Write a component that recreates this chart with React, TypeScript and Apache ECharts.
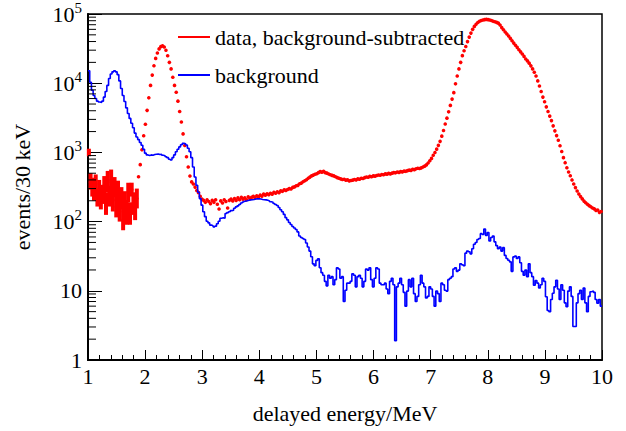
import React, { useEffect, useRef } from 'react';
import * as echarts from 'echarts';

const X_MIN = 1;
const X_MAX = 10;
const BIN_WIDTH = 0.03;

const xTickLabels = ['1', '2', '3', '4', '5', '6', '7', '8', '9', '10'];
const yTickLabels = ['{p|1}', '{p|10}', '{b|10}{s|2}', '{b|10}{s|3}', '{b|10}{s|4}', '{b|10}{s|5}'];
const yMinorTicks = [
  2, 3, 4, 5, 6, 7, 8, 9,
  20, 30, 40, 50, 60, 70, 80, 90,
  200, 300, 400, 500, 600, 700, 800, 900,
  2000, 3000, 4000, 5000, 6000, 7000, 8000, 9000,
  20000, 30000, 40000, 50000, 60000, 70000, 80000, 90000,
];

const redName = 'data, background-subtracted';
const blueName = 'background';

// 30 keV bins from 1 to 10 MeV
const redValues = [
  1000, 370, 315, 265, 350, 215, 290, 190, 250, 330, 180, 370, 230, 400, 205, 315, 165, 275, 140, 215, 105, 190, 140, 265, 130, 290, 180, 150, 215,
  445, 665, 1090, 1740, 2550, 4050, 6150, 9300, 13100, 17900, 22800, 27300, 31300, 33800, 34600, 33400, 29900, 24900, 20000, 16100, 12200, 9300, 7400, 5500, 3900, 2750, 1850, 1260, 865, 615, 455, 375, 350, 315, 282, 262, 232, 211, 203,
  190, 207, 195, 182, 203, 190, 207, 178, 152, 199, 186, 207, 195, 157, 203, 211, 199, 215, 203, 220, 207, 224, 211, 220, 207, 228, 215, 224, 232, 220, 236, 228, 241,
  232, 249, 241, 253, 245, 257, 249, 266, 257, 270, 262, 278, 274, 287, 283, 291, 300, 296, 312, 317, 330, 334, 352, 360, 377, 390, 403, 423, 440, 457, 470, 483, 492,
  510, 527, 518, 531, 510, 501, 488, 475, 466, 457, 445, 432, 423, 414, 406, 410, 397, 401, 388, 393, 397, 406, 401, 414, 410, 423, 419, 432, 441, 437, 450, 445, 458, 454, 463, 472, 467, 480, 476, 489, 485, 498, 489, 502, 511, 507, 520, 515, 528, 524, 537, 533, 546, 555, 550, 568, 563, 581, 590, 585, 598, 616, 633, 660, 704, 757,
  819, 908, 997, 1113, 1265, 1445, 1716, 2075, 2576, 3126, 3860, 4780, 5890, 7300,
  9800, 12700, 16100, 20000, 25000, 29400, 33900, 39900, 46400, 53000, 60000, 66200, 71200, 75300, 78400, 80400, 82000, 83000, 83500, 83000, 82000, 80400, 78400, 77400,
  75800, 73800, 69200, 63600, 59100, 55000, 51500, 48000, 44500, 41000, 38000, 35400, 33000, 30400, 28400, 26400, 24400, 22400, 21000, 19500, 17800, 16100, 14400, 12700, 10800, 9100, 7600, 6300, 5400, 4550, 3900, 3350, 2880, 2420, 2050, 1750, 1500, 1250, 1030, 840, 710, 600, 520, 460, 400, 350, 310, 277, 250, 230, 213, 198, 187, 178, 170, 164, 157, 153, 145, 147, 136, 140,
];

// error bars of the first bins (large subtraction uncertainty)
const redErrLow = [880, 290, 230, 200, 250, 165, 210, 150, 180, 240, 125, 265, 165, 280, 140, 225, 115, 190, 100, 150, 75, 130, 90, 190, 90, 230, 125, 105, 155];
const redErrHigh = [1130, 500, 430, 360, 480, 290, 400, 250, 340, 455, 265, 540, 330, 565, 305, 440, 240, 390, 205, 315, 155, 275, 205, 365, 190, 365, 265, 215, 300];

const blueValues = [
  15100, 10300, 7900, 6650, 6000, 5500, 5350, 5250, 5500, 6300, 7600, 9300, 11700, 13600, 14600, 15100, 14600, 13300, 10800, 8400, 6650, 5450, 4400, 3650, 3100, 2640, 2270, 1900, 1670, 1530, 1390, 1270, 1110, 975,
  920, 900, 920, 910, 930, 940, 950, 930, 940, 910, 895, 865, 840, 795, 775, 840, 920, 1020, 1110, 1200, 1290, 1350, 1330, 1280, 1150, 1020, 840, 615, 440, 335, 266, 215, 173, 139,
  118, 101, 96, 89, 87, 84, 86, 93, 101, 112, 114, 112, 131, 135, 139, 144, 146, 156, 163, 169, 177, 186, 192, 197, 200, 203, 206, 207, 209, 212, 214, 213, 212, 209, 207, 206, 203, 199, 194, 190, 183, 177, 171, 160, 148, 139, 127, 114, 106, 97, 91, 85, 81, 77, 71, 62, 59, 57, 55, 49, 43, 37.5, 31, 24.5, 23,
  27.5, 29, 21.5, 18.3, 16.8, 13.7, 11.8, 16.8, 15.2, 16, 12.2, 14.5, 21.5, 20.7, 15.2, 16, 7, 10.2, 12.9, 12.9, 13.7, 17.6, 16.8, 11.4, 16, 16.8, 15.2, 11.4, 13.7, 20.7, 19.9, 21.5, 14.5, 11.4, 15.2, 21.5, 20.7, 12.9, 12.2, 12.2, 12.9, 10.6, 9.1, 13.7, 15.2, 12.2, 1.9, 11.4, 12.9, 15.2, 12.2, 9.5, 6, 9.9, 14.5, 11.4, 15.2, 9.1, 7, 8.3, 12.2, 16.8, 12.9, 11.4, 7.9, 8.3, 11.4,
  10.6, 8.3, 6, 9.9, 9.1, 7, 12.9, 12.2, 10.2, 9.9, 14.5, 15.2, 16, 20.7, 21.5, 19.1, 19.9, 24.6, 23.8, 23, 35, 37.5, 36.6, 34.2, 40.6, 47, 50, 55, 57, 67, 65, 78, 63, 69.5, 52.5, 59, 62, 51, 45, 40.6, 43, 37.5, 42, 32.5, 29.3, 27.7, 26.2, 19.1, 30.9, 31.7, 29.3, 30.9, 25.4, 19.1, 16.8, 19.9, 16, 24.6, 18.3, 16, 12, 14.1, 12.9, 11, 12.2, 15.2, 13.7, 8.2, 5.2, 5, 7.5, 9.2, 11.4, 14.2, 10.6, 7.5, 12.2, 10.2, 6.7, 5.9, 9.9, 11.4, 8.3, 3.05, 3.05, 6.7, 9.1, 10.2, 7.5, 11, 6.7, 5, 8.3, 9.7, 9.9, 9.5, 7.5, 6.6, 7.5, 6,
];

const FONT = 'Liberation Serif';

export default function App() {
  const ref = useRef<HTMLDivElement>(null);

  useEffect(() => {
    document.body.style.margin = '0';
    if (!ref.current) return;
    const chart = echarts.init(ref.current, undefined, { renderer: 'svg' });

    const binCenter = (i: number) => +(X_MIN + BIN_WIDTH * (i + 0.5)).toFixed(4);
    const binEdge = (i: number) => +(X_MIN + BIN_WIDTH * i).toFixed(4);

    const redData = redValues.map((v, i) => [binCenter(i), v]);
    const blueData = blueValues.map((v, i) => [binEdge(i), v]);
    blueData.push([X_MAX, blueValues[blueValues.length - 1]]);
    const errData = redErrLow.map((lo, i) => [binCenter(i), lo, redErrHigh[i]]);
    const minorTickData = yMinorTicks.map((v) => [X_MIN, v]);

    chart.setOption({
      animation: false,
      backgroundColor: '#fff',
      textStyle: { fontFamily: FONT },
      grid: {
        left: 88,
        right: 24,
        top: 13,
        bottom: 71,
        show: true,
        borderColor: '#000',
        borderWidth: 1.5,
        backgroundColor: 'transparent',
      },
      legend: {
        orient: 'vertical',
        left: 178,
        top: 26,
        padding: 0,
        itemWidth: 32,
        itemHeight: 2,
        itemGap: 16,
        textStyle: { fontFamily: FONT, fontSize: 22, color: '#000' },
        data: [
          { name: redName, icon: 'rect' },
          { name: blueName, icon: 'rect' },
        ],
      },
      xAxis: {
        type: 'value',
        min: X_MIN,
        max: X_MAX,
        interval: 1,
        name: 'delayed energy/MeV',
        nameLocation: 'middle',
        nameGap: 42,
        nameTextStyle: { fontFamily: FONT, fontSize: 22, color: '#000' },
        axisLine: { lineStyle: { color: '#000', width: 2 } },
        axisTick: { inside: true, length: 10, lineStyle: { color: '#000', width: 1 } },
        minorTick: { show: true, splitNumber: 5, length: 5, lineStyle: { color: '#000', width: 1 } },
        splitLine: { show: false },
        axisLabel: {
          margin: 5,
          fontFamily: FONT,
          fontSize: 22,
          color: '#000',
          formatter: (v: number) => xTickLabels[Math.round(v) - 1] ?? '',
        },
      },
      yAxis: {
        type: 'log',
        logBase: 10,
        min: 1,
        max: 100000,
        name: 'events/30 keV',
        nameLocation: 'middle',
        nameGap: 55,
        nameTextStyle: { fontFamily: FONT, fontSize: 22, color: '#000' },
        axisLine: { lineStyle: { color: '#000', width: 2 } },
        axisTick: { inside: true, length: 14, lineStyle: { color: '#000', width: 1 } },
        splitLine: { show: false },
        minorTick: { show: false },
        axisLabel: {
          margin: 6,
          color: '#000',
          fontFamily: FONT,
          formatter: (v: number) => {
            const k = Math.round(Math.log10(v));
            return yTickLabels[k] ?? '';
          },
          rich: {
            p: { fontFamily: FONT, fontSize: 22, color: '#000' },
            b: { fontFamily: FONT, fontSize: 22, color: '#000', verticalAlign: 'bottom', lineHeight: 22 },
            s: { fontFamily: FONT, fontSize: 15, color: '#000', verticalAlign: 'bottom', lineHeight: 15, padding: [0, 0, 10, 0] },
          },
        },
      },
      series: [
        {
          name: redName,
          type: 'scatter',
          data: redData,
          symbol: 'circle',
          symbolSize: 3.6,
          itemStyle: { color: '#ff0000', opacity: 1 },
          z: 3,
        },
        {
          name: 'redErrors',
          type: 'custom',
          data: errData,
          encode: { x: 0, y: [1, 2] },
          z: 3,
          renderItem: (params: any, api: any) => {
            const lo = api.coord([api.value(0), api.value(1)]);
            const hi = api.coord([api.value(0), api.value(2)]);
            return {
              type: 'rect',
              shape: { x: lo[0] - 2, y: hi[1], width: 4, height: lo[1] - hi[1] },
              style: { fill: '#ff0000' },
            };
          },
        },
        {
          name: blueName,
          type: 'line',
          step: 'end',
          data: blueData,
          showSymbol: false,
          symbol: 'none',
          lineStyle: { color: '#0000ff', width: 1.6 },
          itemStyle: { color: '#0000ff' },
          z: 4,
        },
        {
          name: 'yMinorTicks',
          type: 'custom',
          data: minorTickData,
          z: 10,
          silent: true,
          renderItem: (params: any, api: any) => {
            const p = api.coord([api.value(0), api.value(1)]);
            return {
              type: 'line',
              shape: { x1: p[0], y1: p[1], x2: p[0] + 8, y2: p[1] },
              style: { stroke: '#000', lineWidth: 1 },
            };
          },
        },
      ],
    });

    return () => chart.dispose();
  }, []);

  return <div ref={ref} style={{ width: 626, height: 431 }} />;
}
